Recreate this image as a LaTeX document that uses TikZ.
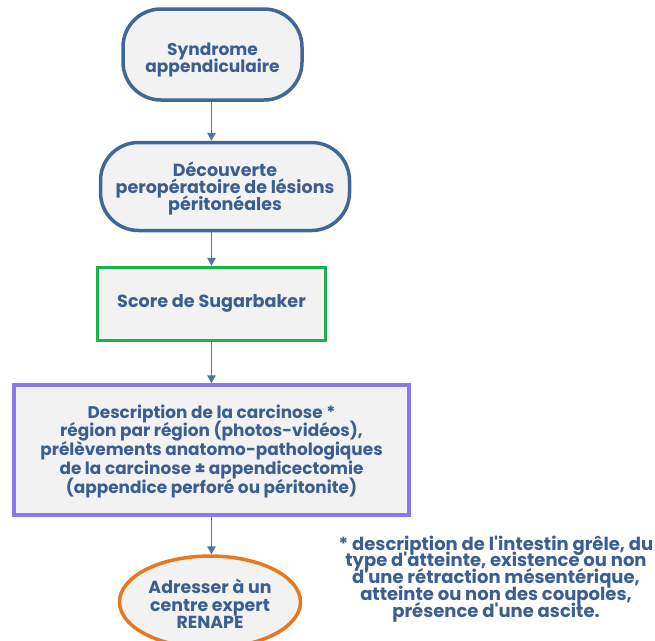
\documentclass[tikz,border=0pt]{standalone}
\usepackage{fontspec}
\newfontfamily\pfont{Poppins}
\usetikzlibrary{arrows.meta,shapes.geometric}
\definecolor{txtblue}{HTML}{3A5E92}
\definecolor{bordblue}{HTML}{3F6898}
\definecolor{arrblue}{HTML}{5275A6}
\definecolor{boxfill}{HTML}{F2F2F2}
\definecolor{sgreen}{HTML}{1DB04E}
\definecolor{spurple}{HTML}{8878F2}
\definecolor{sorange}{HTML}{E8771E}
\newcommand{\fsz}[2]{\pfont\bfseries\fontsize{#1}{#2}\selectfont\lineskiplimit=-100pt\lineskip=0pt}
\newcommand{\topstrut}[1]{\rule{0pt}{#1pt}}
\newcommand{\botstrut}[1]{\rule[-#1pt]{0pt}{#1pt}}
\tikzset{
  lbl/.style={font=\fsz{17.3}{18}, text=txtblue, align=center},
  stadium/.style={lbl, draw=bordblue, line width=3.5pt, fill=boxfill, rounded corners=38pt, inner sep=0pt},
  greenbox/.style={lbl, draw=sgreen, line width=3.5pt, fill=boxfill, inner sep=0pt},
  purplebox/.style={lbl, draw=spurple, line width=3.5pt, fill=boxfill, inner sep=0pt},
  orangeell/.style={lbl, draw=sorange, line width=3.5pt, fill=boxfill, ellipse, inner sep=0pt},
  conn/.style={draw=arrblue, line width=1.3pt, -{Triangle[length=8pt,width=8.5pt]}}
}
\begin{document}
\begin{tikzpicture}[x=1pt,y=-1pt]
\useasboundingbox (0,0) rectangle (655,640);
\node[stadium, minimum width=179pt, minimum height=91pt, font=\fsz{17}{17}] (a) at (212.5,54.5) {\topstrut{25.4}Syndrome\\appendiculaire\botstrut{6}};
\node[stadium, minimum width=249pt, minimum height=88pt, font=\fsz{17.5}{16.7}] (b) at (225,186.5) {\topstrut{19.6}Découverte\\peropératoire de lésions\\péritonéales\botstrut{6}};
\node[greenbox, minimum width=228pt, minimum height=73pt, font=\fsz{17.6}{18}] (c) at (211.5,304) {\topstrut{14.6}Score de Sugarbaker\botstrut{8}};
\node[purplebox, minimum width=395pt, minimum height=130pt, font=\fsz{16.9}{18.75}] (d) at (211.5,450) {\topstrut{17}Description de la carcinose *\\région par région (photos-vidéos),\\prélèvements anatomo-pathologiques\\de la carcinose ± appendicectomie\\(appendice perforé ou péritonite)\botstrut{6}};
\node[orangeell, minimum width=181pt, minimum height=79pt, font=\fsz{17.4}{17.5}] (e) at (210,602) {\topstrut{24}Adresser à un\\centre expert\\RENAPE\botstrut{6}};
\node[lbl, font=\fsz{18}{16.75}] (n) at (496,583.5) {\topstrut{15}* description de l'intestin grêle, du\\type d'atteinte, existence ou non\\d'une rétraction mésentérique,\\atteinte ou non des coupoles,\\présence d'une ascite.\botstrut{15}};
\draw[conn] (a.south -| 211.5,0) -- (b.north -| 211.5,0);
\draw[conn] (b.south -| 211.5,0) -- (c.north -| 211.5,0);
\draw[conn] (c.south -| 211.5,0) -- (d.north -| 211.5,0);
\draw[conn] (d.south -| 211.5,0) -- (e.north -| 211.5,0);
\end{tikzpicture}
\end{document}
